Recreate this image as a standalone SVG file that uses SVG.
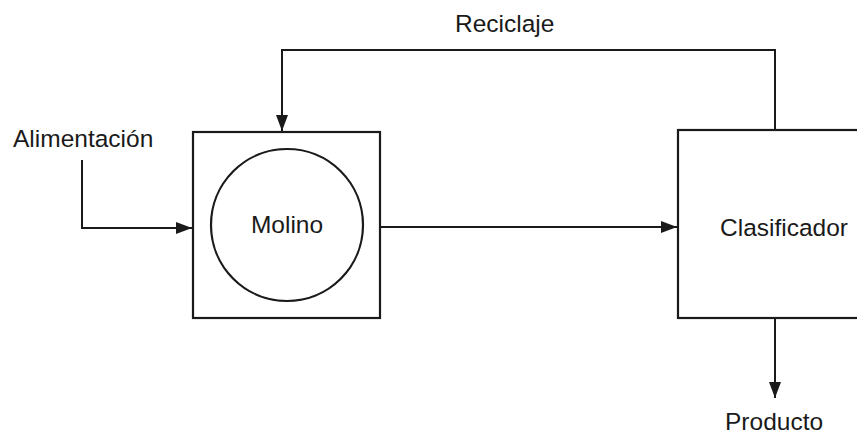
<svg xmlns="http://www.w3.org/2000/svg" width="857" height="434" viewBox="0 0 857 434">
<style>
.box{fill:none;stroke:#1a1a1a;stroke-width:2.2}
.ln{fill:none;stroke:#1a1a1a;stroke-width:2}
.t{font-family:"Liberation Sans",Arial,sans-serif;font-size:24.5px;fill:#1a1a1a}
</style>
<defs>
<marker id="ah" viewBox="0 0 16 12" refX="16" refY="6" markerWidth="16" markerHeight="12" markerUnits="userSpaceOnUse" orient="auto">
<path d="M0,0 L16,6 L0,12 z" fill="#1a1a1a"/>
</marker>
</defs>
<rect width="857" height="434" fill="#fff"/>
<g id="connectors">
<path class="ln" d="M82,160 V228 H192" marker-end="url(#ah)"/>
<path class="ln" d="M775,130 V50 H282 V131" marker-end="url(#ah)"/>
<path class="ln" d="M380,227 H677" marker-end="url(#ah)"/>
<path class="ln" d="M775,318 V398" marker-end="url(#ah)"/>
</g>
<g id="molino">
<rect class="box" x="193" y="132" width="187" height="186"/>
<circle class="box" cx="287" cy="225" r="76"/>
<text class="t" x="287" y="233" text-anchor="middle">Molino</text>
</g>
<g id="clasificador">
<rect class="box" x="678" y="130" width="190" height="188"/>
<text class="t" x="720" y="236">Clasificador</text>
</g>
<g id="labels">
<text class="t" x="13" y="147">Alimentación</text>
<text class="t" x="455" y="32">Reciclaje</text>
<text class="t" x="725" y="430">Producto</text>
</g>
</svg>
